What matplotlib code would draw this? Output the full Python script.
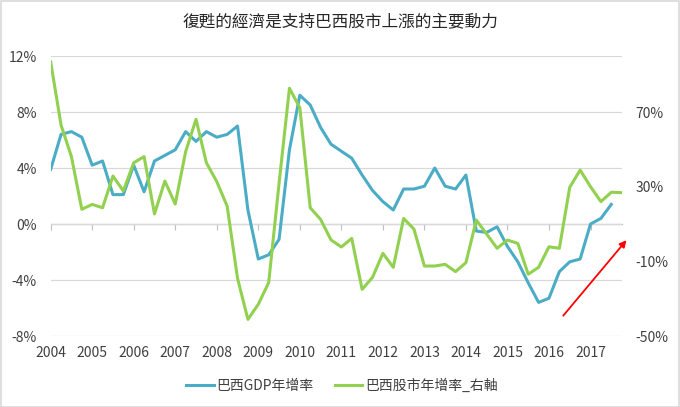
import numpy as np
import pandas as pd
import matplotlib
matplotlib.use("Agg")
import matplotlib.pyplot as plt
from matplotlib.patches import Rectangle

plt.rcParams['font.family'] = ['Noto Sans CJK TC', 'DejaVu Sans']

# quarterly data, 2004Q1 - 2017Q4
quarters = pd.period_range('2004Q1', '2017Q4', freq='Q')
gdp_growth = [3.9, 6.4, 6.6, 6.2, 4.2, 4.5, 2.1, 2.1, 4.2, 2.3,
              4.5, 4.9, 5.3, 6.6, 5.9, 6.6, 6.2, 6.4, 7.0, 1.0,
              -2.5, -2.2, -1.1, 5.3, 9.2, 8.5, 6.9, 5.7, 5.2, 4.7,
              3.5, 2.4, 1.6, 1.0, 2.5, 2.5, 2.7, 4.0, 2.7, 2.5,
              3.5, -0.5, -0.6, -0.2, -1.6, -2.7, -4.2, -5.6, -5.3, -3.4,
              -2.7, -2.5, 0.0, 0.4, 1.4]
stock_growth = [96.9, 63.0, 46.1, 17.9, 20.5, 18.7, 35.7, 27.7, 42.8, 46.1,
                15.4, 33.0, 20.7, 48.7, 66.1, 42.8, 32.7, 19.6, -19.1, -41.1,
                -33.0, -21.4, 31.8, 82.7, 72.3, 18.7, 12.5, 1.5, -2.3, 2.3,
                -25.0, -18.6, -5.7, -13.2, 13.0, 7.2, -12.5, -12.5, -11.6, -15.5,
                -10.7, 12.1, 4.6, -3.0, 1.4, -0.4, -16.9, -13.2, -2.2, -3.0,
                29.7, 38.9, 30.0, 22.0, 27.0, 26.8]
years = list(range(2004, 2018))
left_ticks = [-8, -4, 0, 4, 8, 12]
right_ticks = [-50, -10, 30, 70]

title = '復甦的經濟是支持巴西股市上漲的主要動力'
gdp_label = '巴西GDP年增率'
stock_label = '巴西股市年增率_右軸'

BLUE = '#4BACC6'
GREEN = '#92D050'
TXT = '#404040'
GRID = '#D9D9D9'

x = np.array([q.year + (q.quarter - 1) / 4 for q in quarters])

fig = plt.figure(figsize=(6.8, 4.07), dpi=100)
fig.patches.append(Rectangle((0.001, 0.001), 0.998, 0.997, transform=fig.transFigure,
                             fill=False, edgecolor='#D9D9D9', linewidth=1.2))
ax = fig.add_axes([0.0745, 0.1744, 0.8397, 0.688])
ax2 = ax.twinx()

ax.plot(x[:len(gdp_growth)], gdp_growth, color=BLUE, linewidth=2.2, label=gdp_label, zorder=3)
ax2.plot(x[:len(stock_growth)], stock_growth, color=GREEN, linewidth=2.2, label=stock_label, zorder=3)

ax.set_xlim(x[0], x[-1])
ax.set_ylim(-8, 12)
ax2.set_ylim(-50, 100)
ax.set_yticks(left_ticks)
ax.set_yticklabels([f'{v}%' for v in left_ticks])
ax2.set_yticks(right_ticks)
ax2.set_yticklabels([f'{v}%' for v in right_ticks])
ax.set_xticks(years)
ax.set_xticklabels([str(y) for y in years])

ax.grid(axis='y', color=GRID, linewidth=0.9)
ax.set_axisbelow(True)
for a in (ax, ax2):
    for s in a.spines.values():
        s.set_visible(False)
ax.tick_params(axis='y', length=0, pad=10, labelsize=10, labelcolor=TXT)
ax2.tick_params(axis='y', length=0, pad=10, labelsize=10, labelcolor=TXT)
ax.tick_params(axis='x', length=0, pad=7, labelsize=10, labelcolor=TXT)

# category axis line sits at 0% with tick marks
zero_frac = (0 - (-8)) / (12 - (-8))
sec = ax.secondary_xaxis(zero_frac)
sec.set_xticks(years)
sec.tick_params(axis='x', direction='out', length=4, color='#BFBFBF', labelbottom=False,
                labeltop=False, bottom=True, top=False)
sec.spines['bottom'].set_color('#BFBFBF')
sec.spines['top'].set_visible(False)
sec.spines['bottom'].set_linewidth(0.9)

ax.annotate('', xy=(2017.91, -1.0), xytext=(2016.30, -6.7),
            arrowprops=dict(arrowstyle='-|>', color='red', lw=1.3, mutation_scale=10),
            annotation_clip=False, zorder=5)

fig.text(0.5, 0.945, title, ha='center', va='center', fontsize=12, color='#262626')

h1, l1 = ax.get_legend_handles_labels()
h2, l2 = ax2.get_legend_handles_labels()
fig.legend(h1 + h2, l1 + l2, loc='center', bbox_to_anchor=(0.503, 0.053), ncol=2,
           frameon=False, fontsize=10, labelcolor=TXT, handlelength=2.0,
           handletextpad=0.2, columnspacing=1.5)

fig.savefig('out.png', dpi=100)
